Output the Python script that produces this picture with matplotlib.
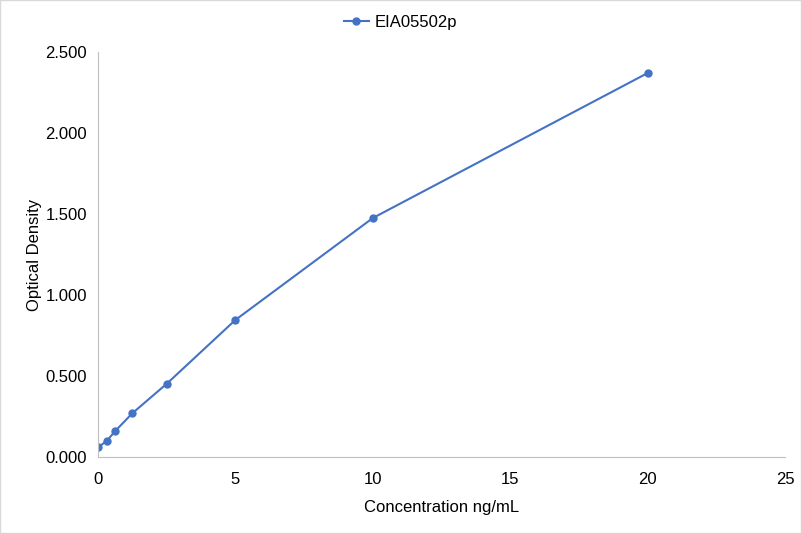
import matplotlib
matplotlib.use("Agg")
import matplotlib.pyplot as plt

plt.rcParams['font.family'] = ['Liberation Sans', 'DejaVu Sans']

conc = [0, 0.3125, 0.625, 1.25, 2.5, 5, 10, 20]
od = [0.060, 0.098, 0.160, 0.270, 0.452, 0.846, 1.475, 2.370]
series_name = "EIA05502p"
x_ticks = [0, 5, 10, 15, 20, 25]
y_ticks = [0.0, 0.5, 1.0, 1.5, 2.0, 2.5]

fig = plt.figure(figsize=(8.01, 5.33), dpi=100)
ax = fig.add_axes([98 / 801, 76 / 533, 687 / 801, 405 / 533])
ax.plot(conc, od, color="#4472C4", marker="o", markersize=5, linewidth=1.5,
        label=series_name)
ax.set_xlim(0, 25)
ax.set_ylim(0, 2.5)
ax.set_xticks(x_ticks)
ax.set_yticks(y_ticks)
ax.set_yticklabels(["%.3f" % v for v in y_ticks])
ax.tick_params(axis="x", length=0, labelsize=12, colors="#000000", pad=11)
ax.tick_params(axis="y", length=0, labelsize=12, colors="#000000", pad=8)
for s in ["top", "right"]:
    ax.spines[s].set_visible(False)
for s in ["left", "bottom"]:
    ax.spines[s].set_color("#BFBFBF")
ax.set_xlabel("Concentration ng/mL", fontsize=12, labelpad=9)
ax.set_ylabel("Optical Density", fontsize=12, labelpad=2)

# legend is centred on the whole figure, not the axes
handles, labels = ax.get_legend_handles_labels()
fig.legend(handles, labels, loc="lower center", bbox_to_anchor=(0.5, 481 / 533 + 0.013),
           frameon=False, fontsize=12, handlelength=1.5, handletextpad=0.35)

border = plt.Rectangle((0, 0), 1, 1, transform=fig.transFigure, fill=False,
                       edgecolor="#D9D9D9", linewidth=1)
fig.patches.append(border)
fig.savefig("out.png", dpi=100)
